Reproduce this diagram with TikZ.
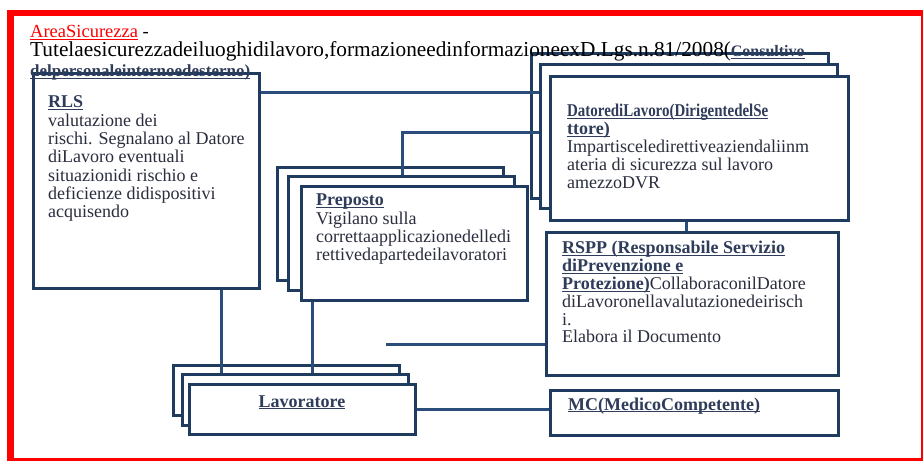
\documentclass[tikz,border=0pt]{standalone}
\usepackage{fontspec}
\usepackage{graphicx}
\setmainfont{Liberation Serif}
\usetikzlibrary{calc}
\definecolor{framered}{HTML}{FF0000}
\definecolor{boxc}{HTML}{1F3B60}
\definecolor{linec}{HTML}{2A4D7C}
\definecolor{txt}{HTML}{2A2D3E}
\definecolor{hdrc}{HTML}{2F3C5A}
\newcommand{\ulrule}[2]{\setbox0\hbox{#2}\rlap{\rule[-2.2pt]{\wd0}{#1}}\box0}
\newcommand{\hd}[1]{\textcolor{hdrc}{\ulrule{1pt}{\textbf{#1}}}}
\newcommand{\txlines}[2]{\vtop{\baselineskip=#1pt\lineskiplimit=-20pt\halign{##\hfil\cr#2\crcr}}}
\begin{document}
\begin{tikzpicture}[x=1pt,y=-1pt,
  bx/.style={draw=boxc, line width=3pt, fill=white, rectangle, inner sep=0pt, anchor=north west},
  conn/.style={draw=linec, line width=3pt},
  tx/.style={anchor=base west, inner sep=0pt, text=txt, font=\fontsize{18}{18}\selectfont}]
\path[use as bounding box] (0,0) rectangle (924,462);
\fill[white] (0,0) rectangle (924,462);
\fill[framered] (7,10) rectangle (923,461);
\fill[white] (14,16) rectangle (921,458);

% boxes
\node[bx, minimum width=226pt, minimum height=215pt] (rls) at (32,72) {};
\node[bx, minimum width=297pt, minimum height=145pt] (datA) at (530,52) {};
\node[bx, minimum width=297pt, minimum height=144pt] (datB) at (539,63) {};
\node[bx, minimum width=298pt, minimum height=144pt] (datC) at (549,75) {};
\node[bx, minimum width=226pt, minimum height=113pt] (prepA) at (276,166) {};
\node[bx, minimum width=226pt, minimum height=114pt] (prepB) at (287,175) {};
\node[bx, minimum width=226pt, minimum height=114pt] (prepC) at (300,185) {};
\node[bx, minimum width=292pt, minimum height=143pt] (rspp) at (545,231) {};
\node[bx, minimum width=226pt, minimum height=50pt] (lavA) at (172,364) {};
\node[bx, minimum width=226pt, minimum height=51pt] (lavB) at (181,373) {};
\node[bx, minimum width=226pt, minimum height=50pt] (lavC) at (188,383) {};
\node[bx, minimum width=288pt, minimum height=45pt] (mc) at (549,389) {};

% helper coordinates
\coordinate (y93) at (0,93);
\coordinate (y133) at (0,133);
\coordinate (y345) at (0,345);
\coordinate (y409) at (0,409);
\coordinate (x221) at (221,0);
\coordinate (x312) at (312,0);
\coordinate (x402) at (402,0);
\coordinate (x686) at (686,0);
\coordinate (rsppfree) at (386,345);

% connectors
\draw[conn] (rls.east |- y93) -- (datB.west |- y93);
\draw[conn] (prepB.north -| x402) -- (x402 |- y133) -- (datB.west |- y133);
\draw[conn] (datC.south -| x686) -- (rspp.north -| x686);
\draw[conn] (rls.south -| x221) -- (lavB.north -| x221);
\draw[conn] (prepC.south -| x312) -- (lavB.north -| x312);
\draw[conn] (rsppfree) -- (rspp.west |- y345);
\draw[conn] (lavC.east |- y409) -- (mc.west |- y409);

% box texts
\node[tx] (rlst) at (48,108) {\txlines{18.3}{\hd{RLS}\cr valutazione dei\cr rischi. Segnalano al Datore\cr diLavoro eventuali\cr situazionidi rischio e\cr deficienze didispositivi\cr acquisendo}};
\node[tx] (datt) at (567,117) {\txlines{17.8}{\hd{\scalebox{0.83}[1]{DatorediLavoro(DirigentedelSe}}\cr \hd{ttore)}\cr Impartisceledirettiveaziendaliinm\cr ateria di sicurezza sul lavoro\cr amezzoDVR}};
\node[tx] (prept) at (316,206) {\txlines{18.3}{\hd{Preposto}\cr Vigilano sulla\cr correttaapplicazionedelledi\cr rettivedapartedeilavoratori}};
\node[tx] (rsppt) at (562,254) {\txlines{17.8}{\hd{RSPP (Responsabile Servizio}\cr \hd{diPrevenzione e}\cr \hd{Protezione)}CollaboraconilDatore\cr diLavoronellavalutazionedeirisch\cr i.\cr Elabora il Documento}};
\node[tx, anchor=base] (lavt) at (302,407) {\hd{Lavoratore}};
\node[tx] (mct) at (568,410) {\hd{MC(MedicoCompetente)}};

% title
\node[tx, text=black, font=\fontsize{18.5}{19}\selectfont] (t1) at (30,38) {\textcolor{framered}{\ulrule{1pt}{AreaSicurezza}} -};
\node[tx, text=black, font=\fontsize{21.3}{22}\selectfont] (t2) at (30,57) {Tutelaesicurezzadeiluoghidilavoro,formazioneedinformazioneexD.Lgs.n.81/2008(\fontsize{16}{16}\selectfont\hd{Consultivo}};
\node[tx, font=\fontsize{17}{17}\selectfont] (t3) at (30,77) {\hd{delpersonaleinternoedesterno)}};
\end{tikzpicture}
\end{document}
